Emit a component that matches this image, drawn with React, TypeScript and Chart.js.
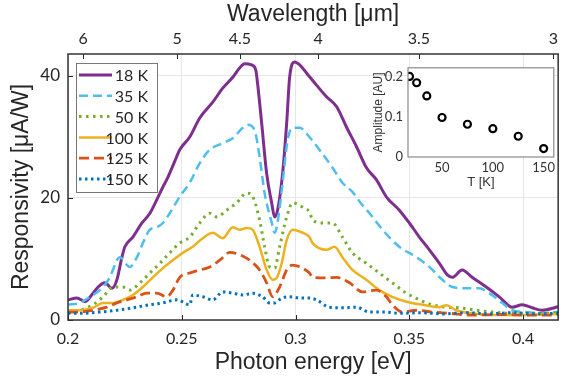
import React, { useEffect, useRef } from "react";
import { Chart, registerables } from "chart.js";

Chart.register(...registerables);

// ---------- data ----------
const energyTicks = [0.2, 0.25, 0.3, 0.35, 0.4];
const wavelengthTicks = [6, 5, 4.5, 4, 3.5, 3];
const responsivityTicks = [0, 20, 40];
const seriesLabels = ["18 K", "35 K", "50 K", "100 K", "125 K", "150 K"];

const e18 = [0.2000,0.2039,0.2075,0.2110,0.2132,0.2162,0.2193,0.2215,0.2237,0.2250,0.2285,0.2325,0.2360,0.2390,0.2417,0.2434,0.2469,0.2491,0.2535,0.2579,0.2636,0.2680,0.2724,0.2754,0.2776,0.2807,0.2825,0.2833,0.2851,0.2873,0.2895,0.2908,0.2921,0.2943,0.2961,0.2974,0.2996,0.3018,0.3048,0.3092,0.3136,0.3180,0.3224,0.3268,0.3311,0.3355,0.3399,0.3456,0.3500,0.3544,0.3588,0.3632,0.3667,0.3689,0.3732,0.3776,0.3838,0.3895,0.3952,0.3996,0.4039,0.4083,0.4145,0.4154];
const r18 = [3.3,3.6,3.0,4.4,5.4,6.1,5.2,6.6,10.3,12.0,13.6,15.9,17.5,19.7,21.8,23.0,26.0,27.9,30.0,33.1,35.7,38.0,39.8,41.3,42.0,41.8,41.0,38.8,32.3,24.0,19.2,16.9,18.0,24.0,32.3,39.8,42.3,41.8,40.5,38.5,36.6,35.0,31.6,28.4,25.0,23.0,20.2,18.0,15.9,13.6,11.5,9.3,7.4,7.0,8.2,7.0,5.4,3.8,2.1,2.5,2.0,1.6,2.1,2.2];

const e35 = [0.2000,0.2053,0.2096,0.2140,0.2184,0.2215,0.2228,0.2259,0.2272,0.2303,0.2329,0.2360,0.2390,0.2417,0.2447,0.2491,0.2535,0.2579,0.2623,0.2680,0.2724,0.2768,0.2789,0.2820,0.2842,0.2864,0.2895,0.2908,0.2921,0.2943,0.2965,0.2987,0.3018,0.3061,0.3105,0.3162,0.3206,0.3250,0.3294,0.3325,0.3382,0.3456,0.3531,0.3588,0.3645,0.3689,0.3750,0.3807,0.3851,0.3908,0.3952,0.4013,0.4070,0.4145,0.4154];
const r35 = [2.5,2.8,3.8,4.9,7.0,9.8,10.3,9.0,8.7,10.3,12.6,14.8,15.2,15.9,17.5,20.2,22.5,25.7,27.9,29.0,29.8,31.5,32.0,31.1,26.7,20.8,16.0,14.3,16.0,22.5,29.5,31.5,31.5,30.0,27.9,25.0,22.5,21.0,18.8,17.5,14.8,12.0,10.3,8.7,6.6,5.4,5.2,5.2,4.4,2.8,1.6,1.3,1.1,1.3,1.3];

const e50 = [0.2000,0.2053,0.2110,0.2154,0.2197,0.2241,0.2272,0.2316,0.2360,0.2404,0.2447,0.2491,0.2535,0.2579,0.2623,0.2654,0.2697,0.2741,0.2785,0.2807,0.2842,0.2864,0.2886,0.2908,0.2930,0.2961,0.2987,0.3031,0.3061,0.3075,0.3118,0.3162,0.3206,0.3250,0.3311,0.3368,0.3425,0.3487,0.3544,0.3601,0.3662,0.3719,0.3794,0.3864,0.3939,0.4039,0.4154];
const r50 = [1.3,1.6,2.5,3.8,5.4,5.4,4.9,6.1,7.7,9.3,11.0,12.6,13.6,15.9,17.5,16.9,18.0,19.2,20.8,20.5,16.4,12.0,8.7,8.5,12.0,16.9,19.2,18.5,17.7,16.4,15.9,15.9,13.6,11.0,9.3,7.7,6.1,4.4,3.3,2.5,2.1,2.0,1.6,1.3,1.1,1.1,1.1];

const e100 = [0.2000,0.2053,0.2110,0.2154,0.2197,0.2241,0.2285,0.2329,0.2373,0.2417,0.2461,0.2504,0.2548,0.2592,0.2636,0.2680,0.2724,0.2754,0.2785,0.2811,0.2842,0.2873,0.2899,0.2917,0.2939,0.2961,0.2987,0.3031,0.3061,0.3075,0.3136,0.3171,0.3206,0.3250,0.3311,0.3368,0.3425,0.3487,0.3557,0.3632,0.3662,0.3706,0.3776,0.3864,0.3969,0.4154];
const r100 = [1.6,1.6,2.0,2.8,2.8,3.3,4.1,5.4,7.0,8.5,9.8,11.0,12.0,13.4,14.3,13.4,15.2,14.8,15.1,14.8,12.0,8.2,6.6,6.9,9.3,13.1,14.8,14.3,13.6,12.6,11.5,12.0,10.3,8.2,6.6,4.9,3.8,3.0,2.5,2.1,2.4,1.6,1.1,0.8,0.8,1.0];

const e125 = [0.2000,0.2053,0.2110,0.2171,0.2215,0.2259,0.2303,0.2346,0.2390,0.2434,0.2461,0.2491,0.2535,0.2579,0.2623,0.2667,0.2711,0.2754,0.2798,0.2842,0.2873,0.2899,0.2930,0.2961,0.2987,0.3031,0.3061,0.3075,0.3136,0.3180,0.3237,0.3294,0.3355,0.3399,0.3425,0.3469,0.3531,0.3601,0.3675,0.3776,0.3900,0.4020,0.4154];
const r125 = [1.3,1.3,1.6,2.1,2.8,3.3,3.8,4.4,4.4,3.8,4.9,7.0,7.7,8.2,8.7,9.8,11.1,10.7,9.8,8.2,6.1,3.8,5.4,8.2,9.0,8.5,7.7,7.0,6.9,7.0,6.1,4.6,4.9,3.8,2.5,1.3,1.6,1.3,1.1,0.8,0.9,0.8,0.8];

const e150 = [0.2000,0.2053,0.2140,0.2215,0.2285,0.2360,0.2417,0.2478,0.2535,0.2548,0.2592,0.2636,0.2680,0.2724,0.2768,0.2811,0.2855,0.2886,0.2908,0.2939,0.2974,0.3018,0.3061,0.3092,0.3149,0.3206,0.3268,0.3325,0.3399,0.3456,0.3550,0.3650,0.3750,0.3850,0.3950,0.4050,0.4154];
const r150 = [1.1,1.1,1.3,1.6,2.0,2.5,2.8,3.3,2.5,4.1,3.8,3.3,4.6,4.4,4.1,4.4,3.8,2.8,2.8,3.6,3.8,3.6,3.6,3.3,2.1,2.0,2.1,1.3,1.3,1.1,1.2,1.0,1.2,1.0,1.2,1.0,1.1];

const insetT = [18, 25, 35, 50, 75, 100, 125, 150];
const insetAmp = [0.202, 0.186, 0.153, 0.099, 0.082, 0.071, 0.052, 0.021];
const insetTTicks = [50, 100, 150];
const insetAmpTicks = [0, 0.1, 0.2];

// ---------- styles ----------
const seriesE = [e18, e35, e50, e100, e125, e150];
const seriesR = [r18, r35, r50, r100, r125, r150];
const colors = ["#7E2F8E", "#4DBEEE", "#77AC30", "#EDB120", "#D95319", "#0072BD"];
const dashes: number[][] = [[], [9, 5], [2.5, 4.5], [], [10, 5], [2.5, 3.5]];
const widths = [3, 2.5, 3, 2.5, 2.8, 3];

const HC = 1.2398;
const TEXT = "#262626";
const TICK_FONT = "Lato, 'Open Sans', sans-serif";
const TITLE_FONT = "'Liberation Sans', Arial, sans-serif";

const fmt = (v: number) => String(Number(v.toFixed(3)));

const mainPlugin = {
  id: "mainDecor",
  afterDraw(chart: any) {
    const { ctx, chartArea: a, scales } = chart;
    ctx.save();
    ctx.strokeStyle = TEXT;
    ctx.lineWidth = 1;
    ctx.beginPath();
    for (const v of energyTicks) {
      const x = Math.round(scales.x.getPixelForValue(v)) + 0.5;
      ctx.moveTo(x, a.bottom);
      ctx.lineTo(x, a.bottom - 5);
    }
    for (const w of wavelengthTicks) {
      const x = Math.round(scales.x2.getPixelForValue(HC / w)) + 0.5;
      ctx.moveTo(x, a.top);
      ctx.lineTo(x, a.top + 5);
    }
    for (const v of responsivityTicks) {
      const y = Math.round(scales.y.getPixelForValue(v)) + 0.5;
      ctx.moveTo(a.left, y);
      ctx.lineTo(a.left + 5, y);
    }
    ctx.stroke();
    ctx.lineWidth = 1.5;
    ctx.strokeStyle = "#333";
    ctx.strokeRect(a.left, a.top, a.right - a.left, a.bottom - a.top);

    // legend
    const lx = 76, ly = 63, lw = 81, lh = 129;
    ctx.fillStyle = "#fff";
    ctx.fillRect(lx, ly, lw, lh);
    ctx.lineWidth = 1;
    ctx.strokeStyle = "#777";
    ctx.strokeRect(lx + 0.5, ly + 0.5, lw, lh);
    ctx.font = `16px ${TICK_FONT}`;
    ctx.textAlign = "right";
    ctx.textBaseline = "middle";
    seriesLabels.forEach((lab, i) => {
      const y = 75 + i * 20.8;
      ctx.beginPath();
      ctx.strokeStyle = colors[i];
      ctx.lineWidth = widths[i];
      ctx.setLineDash(dashes[i]);
      ctx.moveTo(79, y);
      ctx.lineTo(112, y);
      ctx.stroke();
      ctx.setLineDash([]);
      ctx.fillStyle = TEXT;
      ctx.fillText(lab, 148, y + 1);
    });
    ctx.restore();
  },
};

const insetPlugin = {
  id: "insetDecor",
  beforeDraw(chart: any) {
    const { ctx, chartArea: a } = chart;
    ctx.save();
    ctx.fillStyle = "#fff";
    ctx.fillRect(a.left, a.top, a.right - a.left, a.bottom - a.top);
    ctx.restore();
  },
  afterDraw(chart: any) {
    const { ctx, chartArea: a } = chart;
    ctx.save();
    ctx.strokeStyle = "#8a8a8a";
    ctx.lineWidth = 1.2;
    ctx.strokeRect(a.left, a.top, a.right - a.left, a.bottom - a.top);
    ctx.restore();
  },
};

export default function App() {
  const mainRef = useRef<HTMLCanvasElement>(null);
  const insetRef = useRef<HTMLCanvasElement>(null);

  useEffect(() => {
    const datasets = seriesLabels.map((label, i) => ({
      label,
      data: seriesE[i].map((x, j) => ({ x, y: seriesR[i][j] })),
      borderColor: colors[i],
      backgroundColor: colors[i],
      borderWidth: widths[i],
      borderDash: dashes[i],
      pointRadius: 0,
      cubicInterpolationMode: "monotone" as const,
      fill: false,
      order: seriesLabels.length - i,
      xAxisID: "x",
      yAxisID: "y",
    }));

    const main = new Chart(mainRef.current!, {
      type: "line",
      data: { datasets },
      options: {
        animation: false,
        responsive: false,
        maintainAspectRatio: false,
        devicePixelRatio: 1,
        layout: { padding: { left: 0, right: 5, top: 0, bottom: 0 } },
        plugins: { legend: { display: false }, tooltip: { enabled: false } },
        scales: {
          x: {
            type: "linear",
            position: "bottom",
            min: 0.2,
            max: 0.4154,
            afterBuildTicks: (s: any) => { s.ticks = energyTicks.map((value) => ({ value })); },
            afterFit: (s: any) => { s.height = 58; },
            ticks: {
              color: TEXT,
              font: { family: TICK_FONT, size: 16 },
              padding: 9,
              maxRotation: 0,
              autoSkip: false,
              callback: (v: any) => fmt(Number(v)),
            },
            grid: { color: "#e6e6e6", lineWidth: 1, drawTicks: false },
            border: { display: false },
            title: {
              display: true,
              text: "Photon energy [eV]",
              color: TEXT,
              font: { family: TITLE_FONT, size: 23 },
              padding: { top: 0, bottom: 2 },
            },
          },
          x2: {
            type: "linear",
            position: "top",
            min: 0.2,
            max: 0.4154,
            afterBuildTicks: (s: any) => { s.ticks = wavelengthTicks.map((w) => ({ value: HC / w })); },
            afterFit: (s: any) => { s.height = 54; },
            ticks: {
              color: TEXT,
              font: { family: TICK_FONT, size: 16 },
              padding: 6,
              maxRotation: 0,
              autoSkip: false,
              callback: (v: any) => {
                const w = HC / Number(v);
                return fmt(Math.round(w * 10) / 10);
              },
            },
            grid: { display: false, drawTicks: false },
            border: { display: false },
            title: {
              display: true,
              text: "Wavelength [μm]",
              color: TEXT,
              font: { family: TITLE_FONT, size: 23 },
              padding: { top: 1, bottom: 0 },
            },
          },
          y: {
            type: "linear",
            position: "left",
            min: 0,
            max: 43.6,
            afterBuildTicks: (s: any) => { s.ticks = responsivityTicks.map((value) => ({ value })); },
            afterFit: (s: any) => { s.width = 68; },
            ticks: {
              color: TEXT,
              font: { family: TICK_FONT, size: 17 },
              padding: 8,
              callback: (v: any) => fmt(Number(v)),
            },
            grid: { color: "#e6e6e6", lineWidth: 1, drawTicks: false },
            border: { display: false },
            title: {
              display: true,
              text: "Responsivity [μA/W]",
              color: TEXT,
              font: { family: TITLE_FONT, size: 23 },
              padding: { top: 8, bottom: 0 },
            },
          },
        },
      },
      plugins: [mainPlugin],
    });

    const inset = new Chart(insetRef.current!, {
      type: "scatter",
      data: {
        datasets: [
          {
            label: "Amplitude",
            data: insetT.map((x, i) => ({ x, y: insetAmp[i] })),
            pointRadius: 3.5,
            pointBorderWidth: 2.2,
            pointBorderColor: "#000",
            pointBackgroundColor: "rgba(255,255,255,0)",
            showLine: false,
          },
        ],
      },
      options: {
        animation: false,
        responsive: false,
        maintainAspectRatio: false,
        devicePixelRatio: 1,
        layout: { padding: { left: 0, right: 6, top: 7, bottom: 0 } },
        plugins: { legend: { display: false }, tooltip: { enabled: false } },
        scales: {
          x: {
            type: "linear",
            min: 16.5,
            max: 160,
            afterBuildTicks: (s: any) => { s.ticks = insetTTicks.map((value) => ({ value })); },
            afterFit: (s: any) => { s.height = 38; },
            ticks: {
              color: "#333",
              font: { family: TICK_FONT, size: 13 },
              padding: 3,
              maxRotation: 0,
              autoSkip: false,
            },
            grid: { display: false, drawTicks: false },
            border: { display: false },
            title: {
              display: true,
              text: "T [K]",
              color: "#333",
              font: { family: TITLE_FONT, size: 13 },
              padding: { top: 0, bottom: 5 },
            },
          },
          y: {
            type: "linear",
            min: 0,
            max: 0.2235,
            afterBuildTicks: (s: any) => { s.ticks = insetAmpTicks.map((value) => ({ value })); },
            afterFit: (s: any) => { s.width = 48; },
            ticks: {
              color: "#333",
              font: { family: TICK_FONT, size: 13 },
              padding: 5,
              callback: (v: any) => fmt(Number(v)),
            },
            grid: { display: false, drawTicks: false },
            border: { display: false },
            title: {
              display: true,
              text: "Amplitude [AU]",
              color: "#333",
              font: { family: TITLE_FONT, size: 12 },
              padding: { top: 11, bottom: 0 },
            },
          },
        },
      },
      plugins: [insetPlugin],
    });

    return () => {
      main.destroy();
      inset.destroy();
    };
  }, []);

  return (
    <div style={{ position: "fixed", left: 0, top: 0, width: 564, height: 378, background: "#fff" }}>
      <canvas
        ref={mainRef}
        width={564}
        height={378}
        style={{ position: "absolute", left: 0, top: 0, width: 564, height: 378 }}
      />
      <canvas
        ref={insetRef}
        width={200}
        height={140}
        style={{ position: "absolute", left: 360, top: 55, width: 200, height: 140 }}
      />
    </div>
  );
}
